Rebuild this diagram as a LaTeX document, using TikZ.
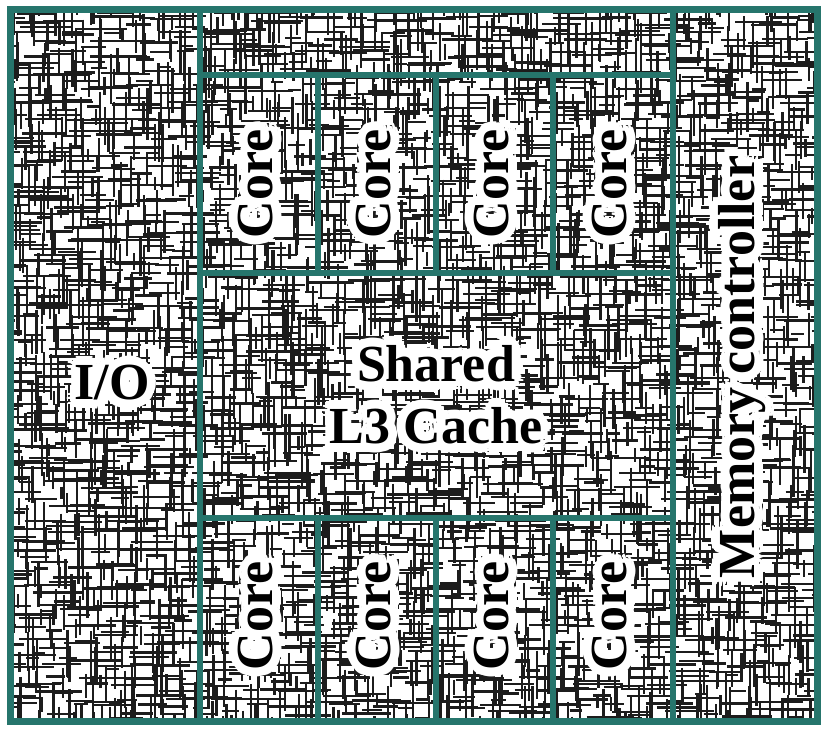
\documentclass[tikz,border=0pt]{standalone}
\usepackage{fontspec}
\setmainfont{Liberation Serif}
\definecolor{chipteal}{RGB}{38,117,108}
\definecolor{ink}{RGB}{28,28,28}
\tikzset{
  grain/.style={draw=ink, line width=2.3pt, line cap=butt},
  wall/.style={draw=chipteal, line width=6pt},
  outerwall/.style={draw=chipteal, line width=7pt},
  lbl/.style={font=\fontsize{52}{62}\selectfont\bfseries, align=center, inner sep=0pt},
}
\newcommand\halolabel[4]{%
  \foreach \a in {0,30,...,330}{\foreach \r in {3,6,9}{%
    \node[lbl, white, rotate=#3] at ([shift={(\a:\r)}]#2) {#4};}}%
  \node[lbl, black, rotate=#3] (#1) at (#2) {#4};}
\begin{document}
\begin{tikzpicture}[x=1pt,y=-1pt]
\useasboundingbox (0,0) rectangle (827,733);
\fill[white] (0,0) rectangle (827,733);
\begin{scope}
\clip (10,10) rectangle (817,721);
\pgfmathsetseed{4217}
\draw[grain] foreach \gx in {0,...,52} { foreach \gy [evaluate=\gy as \hx using {\gx*16-30+rnd*16}, evaluate=\gy as \hy using {\gy*16+rnd*16}, evaluate=\gy as \hl using {12+rnd*40}, evaluate=\gy as \vx using {\gx*16+rnd*16}, evaluate=\gy as \vy using {\gy*16-30+rnd*16}, evaluate=\gy as \vl using {12+rnd*40}] in {0,...,46} {(\hx,\hy) -- ++(\hl,0) (\vx,\vy) -- ++(0,\vl)} };
\end{scope}
% walls
\coordinate (tl) at (10,10);
\coordinate (br) at (817,721);
\draw[wall] (200,10) -- (200,721);
\draw[wall] (673,10) -- (673,721);
\draw[wall] (200,75) -- (673,75);
\draw[wall] (200,273) -- (673,273);
\draw[wall] (200,518) -- (673,518);
\foreach \xx in {318,436,553}{
  \draw[wall] (\xx,75) -- (\xx,273);
  \draw[wall] (\xx,518) -- (\xx,721);
}
\draw[outerwall] (tl) rectangle (br);
% labels
\halolabel{c1}{256,184}{90}{Core}
\halolabel{c2}{374,184}{90}{Core}
\halolabel{c3}{492,184}{90}{Core}
\halolabel{c4}{610,184}{90}{Core}
\halolabel{c5}{256,616}{90}{Core}
\halolabel{c6}{374,616}{90}{Core}
\halolabel{c7}{492,616}{90}{Core}
\halolabel{c8}{610,616}{90}{Core}
\halolabel{l3}{436,395}{0}{Shared\\L3 Cache}
\halolabel{io}{112,383}{0}{I/O}
\halolabel{mc}{742,367}{90}{Memory controller}
\end{tikzpicture}
\end{document}
